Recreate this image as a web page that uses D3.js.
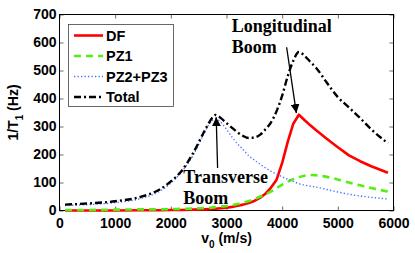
<!DOCTYPE html>
<html><head><meta charset="utf-8">
<script src="https://cdn.jsdelivr.net/npm/d3@7"></script>
<style>
html,body{margin:0;padding:0;background:#fff;}
svg text{font-family:"Liberation Sans",Arial,sans-serif;font-weight:bold;}
</style></head>
<body>
<svg id="chart" width="415" height="253"></svg>
<script>
const velocity = [100, 500, 1000, 1500, 1800, 2000, 2200, 2400, 2600, 2700, 2800, 2900, 3000, 3100, 3200, 3300, 3400, 3500, 3600, 3700, 3800, 3900, 4000, 4100, 4200, 4300, 4400, 4500, 4600, 4800, 5000, 5200, 5400, 5600, 5900];
const dfValues = [0, 0, 0, 1, 1, 2, 2, 3, 4, 5, 6, 8, 10, 13, 17, 21, 27, 34, 45, 60, 82, 110, 170, 245, 310, 342, 323, 305, 288, 256, 226, 197, 176, 158, 135];
const pz1Values = [2, 2, 3, 4, 4, 5, 6, 7, 9, 10, 12, 14, 16, 19, 23, 28, 34, 41, 49, 58, 68, 80, 92, 103, 112, 119, 124, 127, 126, 120, 111, 100, 90, 80, 68];
const pz23Values = [18, 21, 28, 45, 69, 98, 140, 197, 276, 312, 327, 315, 290, 262, 238, 217, 196, 180, 166, 152, 140, 130, 120, 112, 104, 96, 91, 87, 84, 75, 66, 58, 52, 47, 41];
const totalValues = [21, 25, 33, 51, 75, 104, 143, 205, 282, 318, 341, 330, 312, 295, 279, 266, 259, 261, 270, 290, 315, 355, 410, 480, 535, 566, 553, 532, 512, 457, 405, 368, 330, 290, 240];
const xTicks = [0, 1000, 2000, 3000, 4000, 5000, 6000];
const yTicks = [0, 100, 200, 300, 400, 500, 600, 700];
const seriesNames = ["DF", "PZ1", "PZ2+PZ3", "Total"];

const svg = d3.select("#chart");
const m = {left: 59.5, right: 393.5, top: 14.5, bottom: 210.5};
const x = d3.scaleLinear().domain([0, 6000]).range([m.left, m.right]);
const y = d3.scaleLinear().domain([0, 700]).range([m.bottom, m.top]);

const styles = [
  {color: "#ff0000", width: 2.6, dash: null},
  {color: "#55ee11", width: 2.6, dash: "7,5"},
  {color: "#4a70ff", width: 1.4, dash: "1.3,2.2"},
  {color: "#000000", width: 2.4, dash: "7,3,2,3"}
];
const seriesData = [dfValues, pz1Values, pz23Values, totalValues];

// frame + ticks
const g = svg.append("g");
const tickLen = 4;
const bottomAxis = d3.axisBottom(x).tickValues(xTicks).tickSize(-tickLen).tickPadding(8).tickFormat(d3.format("d"));
const topAxis = d3.axisTop(x).tickValues(xTicks).tickSize(-tickLen).tickFormat("");
const leftAxis = d3.axisLeft(y).tickValues(yTicks).tickSize(-tickLen).tickPadding(3).tickFormat(d3.format("d"));
const rightAxis = d3.axisRight(y).tickValues(yTicks).tickSize(-tickLen).tickFormat("");

function styleAxis(sel){
  sel.select(".domain").remove();
  sel.selectAll(".tick line").attr("stroke", "#444").attr("stroke-width", 0.8);
  sel.selectAll("text").attr("fill", "#000").style("font-size", "14px").style("font-family", '"Liberation Sans",Arial,sans-serif').style("font-weight", "bold");
}
g.append("g").attr("transform", `translate(0,${m.bottom})`).call(bottomAxis).call(styleAxis);
g.append("g").attr("transform", `translate(0,${m.top})`).call(topAxis).call(styleAxis);
g.append("g").attr("transform", `translate(${m.left},0)`).call(leftAxis).call(styleAxis);
g.append("g").attr("transform", `translate(${m.right},0)`).call(rightAxis).call(styleAxis);

svg.append("rect").attr("x", m.left).attr("y", m.top).attr("width", m.right - m.left).attr("height", m.bottom - m.top)
  .attr("fill", "none").attr("stroke", "#000").attr("stroke-width", 1);

// lines
seriesData.forEach((vals, i) => {
  const line = d3.line().x((d, j) => x(velocity[j])).y(d => y(d))
    .curve(i === 0 ? d3.curveLinear : d3.curveMonotoneX);
  svg.append("path").datum(vals).attr("d", line)
    .attr("fill", "none").attr("stroke", styles[i].color).attr("stroke-width", styles[i].width)
    .attr("stroke-dasharray", styles[i].dash).attr("stroke-linejoin", "round");
});
// redraw DF on top to keep it visible
// axis labels
svg.append("text").attr("x", (m.left + m.right) / 2).attr("y", 243).attr("text-anchor", "middle")
  .style("font-size", "14px")
  .call(t => { t.append("tspan").text("v"); t.append("tspan").attr("dy", 5).style("font-size", "10px").text("0"); t.append("tspan").attr("dy", -5).text(" (m/s)"); });
svg.append("text").attr("transform", `translate(18,${(m.top + m.bottom) / 2}) rotate(-90)`).attr("text-anchor", "middle")
  .style("font-size", "14px")
  .call(t => { t.append("tspan").text("1/T"); t.append("tspan").attr("dy", 5).style("font-size", "10px").text("1"); t.append("tspan").attr("dy", -5).text(" (Hz)"); });

// legend
const lg = svg.append("g");
lg.append("rect").attr("x", 68.5).attr("y", 24.5).attr("width", 105).attr("height", 82)
  .attr("fill", "#fff").attr("stroke", "#444").attr("stroke-width", 0.8);
seriesNames.forEach((name, i) => {
  const yy = 35.5 + i * 20.5;
  lg.append("line").attr("x1", 74).attr("x2", 103).attr("y1", yy).attr("y2", yy)
    .attr("stroke", styles[i].color).attr("stroke-width", styles[i].width).attr("stroke-dasharray", styles[i].dash);
  lg.append("text").attr("x", 106).attr("y", yy + 5).style("font-size", "14.5px").text(name);
});

// annotations
const serif = '"Liberation Serif","Times New Roman",serif';
function annot(lines, vx, vy){
  const t = svg.append("text").attr("x", x(vx)).attr("y", y(vy)).style("font-family", serif).style("font-size", "18px").style("font-weight", "bold");
  lines.forEach((l, i) => t.append("tspan").attr("x", x(vx)).attr("dy", i === 0 ? 0 : 20.5).text(l));
}
annot(["Longitudinal", "Boom"], 3093, 636);
annot(["Transverse", "Boom"], 2223, 98);

const defs = svg.append("defs");
defs.append("marker").attr("id", "ah").attr("viewBox", "0 0 10 10").attr("refX", 10).attr("refY", 5)
  .attr("markerWidth", 9).attr("markerHeight", 9).attr("markerUnits", "userSpaceOnUse").attr("orient", "auto")
  .append("path").attr("d", "M0,0 L10,5 L0,10 Z").attr("fill", "#000");
function arrow(v1, y1, v2, y2){
  svg.append("line").attr("x1", x(v1)).attr("y1", y(y1)).attr("x2", x(v2)).attr("y2", y(y2))
    .attr("stroke", "#000").attr("stroke-width", 1.3).attr("marker-end", "url(#ah)");
}
arrow(4080, 583, 4255, 348);
arrow(2840, 152, 2815, 333);
</script>
</body></html>
